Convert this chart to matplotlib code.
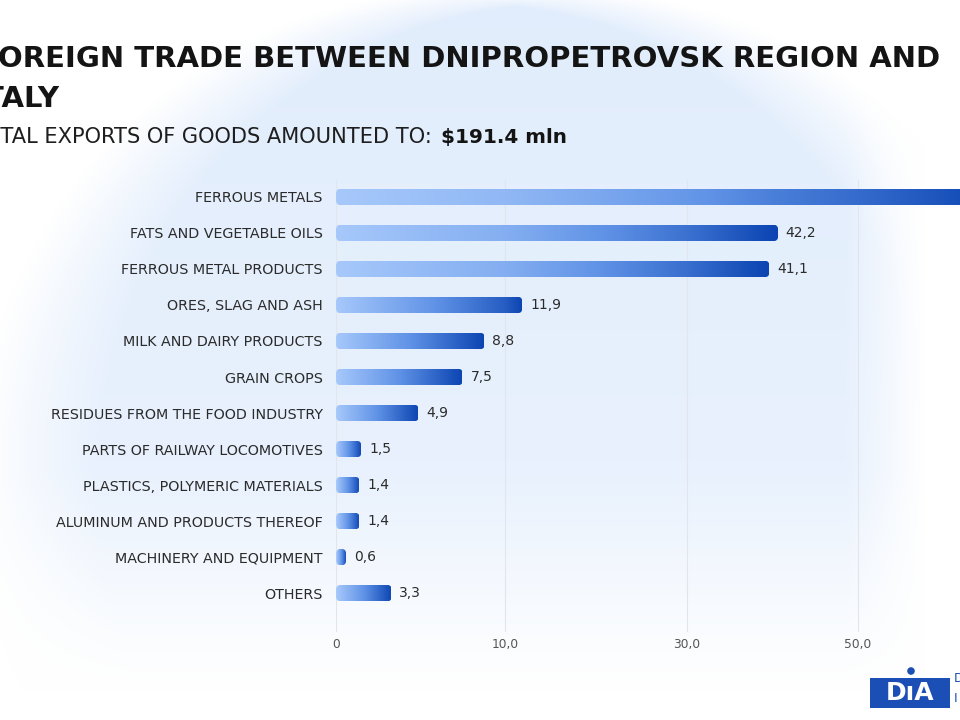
import numpy as np
import matplotlib
matplotlib.use('Agg')
import matplotlib.pyplot as plt
from matplotlib.colors import LinearSegmentedColormap
from matplotlib.patches import FancyBboxPatch, Rectangle, Circle
from matplotlib.transforms import IdentityTransform

# Export structure, mln USD (Dnipropetrovsk region -> Italy)
categories = [
    'FERROUS METALS',
    'FATS AND VEGETABLE OILS',
    'FERROUS METAL PRODUCTS',
    'ORES, SLAG AND ASH',
    'MILK AND DAIRY PRODUCTS',
    'GRAIN CROPS',
    'RESIDUES FROM THE FOOD INDUSTRY',
    'PARTS OF RAILWAY LOCOMOTIVES',
    'PLASTICS, POLYMERIC MATERIALS',
    'ALUMINUM AND PRODUCTS THEREOF',
    'MACHINERY AND EQUIPMENT',
    'OTHERS',
]
values = [66.8, 42.2, 41.1, 11.9, 8.8, 7.5, 4.9, 1.5, 1.4, 1.4, 0.6, 3.3]
xtick_values = [0, 10, 30, 50]
xtick_labels = ['0', '10,0', '30,0', '50,0']

title_line1 = 'FOREIGN TRADE BETWEEN DNIPROPETROVSK REGION AND'
title_line2 = 'ITALY'
subtitle = 'TOTAL EXPORTS OF GOODS AMOUNTED TO:'
total_text = '$191.4 mln'

# the source chart uses an uneven axis: 0, 10, 30, 50 sit at almost equal steps
knots_data = [-10, 0, 10, 30, 42, 50, 100]
knots_axis = [-169, 0, 169, 351, 440, 522, 950]


def fwd(x):
    return np.interp(x, knots_data, knots_axis)


def inv(x):
    return np.interp(x, knots_axis, knots_data)


W, H = 960, 720
fig = plt.figure(figsize=(9.6, 7.2), dpi=100)
fig.patch.set_facecolor('white')

# --- soft blue background circle ---
bg = fig.add_axes([0, 0, 1, 1], zorder=-5)
yy, xx = np.mgrid[0:H, 0:W].astype(float)
dx, dy = xx - 515, yy - 480
d = np.hypot(dx, dy) + 1e-9
soft = 12 + 110 * np.abs(dx) / d
mask = np.clip((480 - d) / soft + 0.5, 0, 1)
vfade = np.clip(1 - yy / 760, 0, 1) ** 0.7
rfade = np.clip((925 - xx) / 80, 0, 1)
bfade = np.clip((690 - yy) / 220, 0, 1)
strength = mask * (0.55 + 0.45 * vfade) * rfade * bfade
blue = np.array([0.885, 0.93, 0.99])
img = 1 - strength[..., None] * (1 - blue)
bg.imshow(img, extent=(0, W, H, 0), interpolation='bilinear')
bg.set_xlim(0, W)
bg.set_ylim(H, 0)
bg.axis('off')

# --- bar chart ---
ax_left, ax_top, ax_bottom = 336, 180, 632
ax = fig.add_axes([ax_left / W, 1 - ax_bottom / H, 1 - ax_left / W, (ax_bottom - ax_top) / H])
ax.patch.set_alpha(0)

cmap = LinearSegmentedColormap.from_list('bar', ['#a6c8fb', '#5f92e6', '#0b44b2'])
grad = np.linspace(0, 1, 256).reshape(1, -1)
bar_h = 0.46
ypos = np.arange(len(categories))

images = []
for y, v in zip(ypos, values):
    im = ax.imshow(grad, cmap=cmap, extent=(0, v, y + bar_h / 2, y - bar_h / 2),
                   aspect='auto', interpolation='bilinear', zorder=3)
    images.append(im)

ax.set_xscale('function', functions=(fwd, inv))
ax.set_xlim(0, 61.9)
ax.set_ylim(len(categories) - 1 + 1.08, -0.47)

# rounded clip shapes for each bar, from the data transform
for im, y, v in zip(images, ypos, values):
    (x0, y0), (x1, y1) = ax.transData.transform([(0, y - bar_h / 2), (v, y + bar_h / 2)])
    box = FancyBboxPatch((min(x0, x1), min(y0, y1)), abs(x1 - x0), abs(y1 - y0),
                         boxstyle='round,pad=0,rounding_size=5', transform=IdentityTransform())
    im.set_clip_path(box)

for y, v in zip(ypos, values):
    ax.annotate(f'{v:.1f}'.replace('.', ','), xy=(v, y), xytext=(5.5, 0),
                textcoords='offset points', va='center', ha='left',
                fontsize=10, color='#2b2b2b')

ax.set_yticks(ypos, categories)
ax.set_xticks(xtick_values, xtick_labels)
ax.tick_params(axis='y', length=0, pad=9.5, labelsize=10.3, labelcolor='#2b2b2b')
ax.tick_params(axis='x', length=0, pad=4, labelsize=8.8, labelcolor='#555555')
ax.grid(True, axis='x', color='#e2e6ec', linewidth=0.8, zorder=0)
ax.grid(False, axis='y')
ax.set_axisbelow(True)
for s in ax.spines.values():
    s.set_visible(False)

# --- titles (the source image is cropped on the left) ---
renderer = fig.canvas.get_renderer()


def fit_size(text, target_px, weight, base=20):
    t = fig.text(0, 0, text, fontsize=base, fontweight=weight)
    w = t.get_window_extent(renderer).width
    t.remove()
    return base * target_px / w


fs_title = fit_size(title_line1[1:], 940, 'bold')
fig.text(940 / W, 1 - 67 / H, title_line1, ha='right', va='baseline',
         fontsize=fs_title, fontweight='bold', color='#141414')
fig.text(59 / W, 1 - 107 / H, title_line2, ha='right', va='baseline',
         fontsize=fs_title, fontweight='bold', color='#141414')

fs_sub = fit_size(subtitle[2:], 432, 'normal')
fig.text(432 / W, 1 - 143 / H, subtitle, ha='right', va='baseline',
         fontsize=fs_sub, color='#1e1e1e')
fs_total = fit_size(total_text, 126, 'bold')
fig.text(441 / W, 1 - 143 / H, total_text, ha='left', va='baseline',
         fontsize=fs_total, fontweight='bold', color='#141414')

# --- logo ---
logo_blue = '#1b4fb6'
fig.patches.append(Rectangle((870, H - 708), 80, 30, transform=IdentityTransform(),
                             facecolor=logo_blue, edgecolor='none'))
fig.patches.append(Circle((911, H - 671), 3.8, transform=IdentityTransform(),
                          facecolor=logo_blue, edgecolor='none'))
fig.text(910 / W, 1 - 693 / H, 'DıA', ha='center', va='center', fontsize=18,
         fontweight='bold', color='white')
fig.text(954 / W, 1 - 679 / H, 'D', ha='left', va='center', fontsize=9, color=logo_blue)
fig.text(954 / W, 1 - 699 / H, 'I', ha='left', va='center', fontsize=9, color=logo_blue)

fig.savefig('out.png', dpi=100)
